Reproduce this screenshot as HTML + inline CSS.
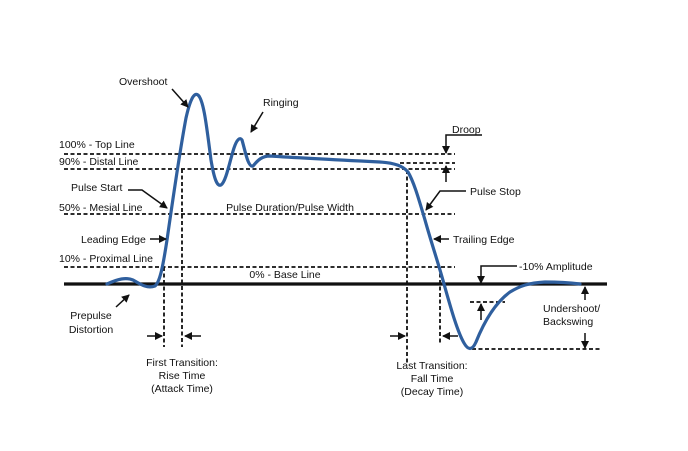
<!DOCTYPE html>
<html><head><meta charset="utf-8"><style>
html,body{margin:0;padding:0;background:#fff;}
svg{display:block;}
text{font-family:"Liberation Sans",sans-serif;font-size:10.5px;fill:#111;}
</style></head><body>
<svg width="688" height="451" viewBox="0 0 688 451" xmlns="http://www.w3.org/2000/svg">
<defs>
<marker id="ah" markerWidth="8" markerHeight="8" refX="7" refY="4" orient="auto" markerUnits="userSpaceOnUse">
<path d="M0,0 L8,4 L0,8 z" fill="#111"/></marker>
</defs>
<g stroke="#111" stroke-width="1.8" stroke-dasharray="4,2.5" fill="none">
<line x1="64" y1="154" x2="455" y2="154"/>
<line x1="400" y1="163" x2="455" y2="163"/>
<line x1="64" y1="169" x2="455" y2="169"/>
<line x1="64" y1="214" x2="455" y2="214"/>
<line x1="64" y1="267" x2="455" y2="267"/>
<line x1="164" y1="267" x2="164" y2="347"/>
<line x1="182" y1="169" x2="182" y2="347"/>
<line x1="407" y1="170" x2="407" y2="365"/>
<line x1="440" y1="267" x2="440" y2="345"/>
<line x1="470" y1="302" x2="505" y2="302"/>
<line x1="472" y1="349" x2="600" y2="349"/>
</g>
<line x1="64" y1="284" x2="607" y2="284" stroke="#111" stroke-width="3.2"/>
<path d="M107,284 C118,279 126,277 133,280 C140,284 147,289 155,286 C160,282 163,266 167,240 C172,205 180,150 186,118 C190,100 194,92 198,95 C204,100 207,130 211,160 C214,178 217,187 221,185 C226,182 230,160 234,148 C237,139 240,137 242,140 C245,150 248,168 253,166 C258,160 262,156 270,156 C300,158 340,160 380,162 C395,163 403,166 408,172 C414,182 419,200 425,220 C432,245 438,262 444,284 C450,305 457,331 464,343 C468,350 472,351 476,342 C484,322 495,303 510,292 C520,286 528,283 545,282 C560,282 572,283 580,284" fill="none" stroke="#2f5f9e" stroke-width="3.2" stroke-linecap="round"/>
<g stroke="#111" stroke-width="1.5" fill="none">
<line x1="172" y1="89" x2="188" y2="107" marker-end="url(#ah)"/>
<line x1="263" y1="112" x2="251" y2="132" marker-end="url(#ah)"/>
<polyline points="128,190 142,190 167,208" marker-end="url(#ah)"/>
<line x1="150" y1="239" x2="166" y2="239" marker-end="url(#ah)"/>
<line x1="116" y1="307" x2="129" y2="295" marker-end="url(#ah)"/>
<line x1="147" y1="336" x2="162" y2="336" marker-end="url(#ah)"/>
<line x1="201" y1="336" x2="185" y2="336" marker-end="url(#ah)"/>
<line x1="390" y1="336" x2="405" y2="336" marker-end="url(#ah)"/>
<line x1="458" y1="336" x2="443" y2="336" marker-end="url(#ah)"/>
<polyline points="482,135 446,135 446,153" marker-end="url(#ah)"/>
<line x1="446" y1="182" x2="446" y2="166" marker-end="url(#ah)"/>
<polyline points="466,191 440,191 426,210" marker-end="url(#ah)"/>
<line x1="449" y1="239" x2="434" y2="239" marker-end="url(#ah)"/>
<polyline points="517,266 481,266 481,283" marker-end="url(#ah)"/>
<line x1="481" y1="320" x2="481" y2="304" marker-end="url(#ah)"/>
<line x1="585" y1="300" x2="585" y2="287" marker-end="url(#ah)"/>
<line x1="585" y1="333" x2="585" y2="348" marker-end="url(#ah)"/>
</g>
<text x="119" y="85">Overshoot</text>
<text x="263" y="106">Ringing</text>
<text x="59" y="148">100% - Top Line</text>
<text x="59" y="165">90% - Distal Line</text>
<text x="71" y="191">Pulse Start</text>
<text x="59" y="211">50% - Mesial Line</text>
<text x="81" y="243">Leading Edge</text>
<text x="59" y="262">10% - Proximal Line</text>
<text x="285" y="278" text-anchor="middle">0% - Base Line</text>
<text x="290" y="211" text-anchor="middle">Pulse Duration/Pulse Width</text>
<text x="91" y="319" text-anchor="middle">Prepulse</text>
<text x="91" y="333" text-anchor="middle">Distortion</text>
<text x="182" y="366" text-anchor="middle">First Transition:</text>
<text x="182" y="379" text-anchor="middle">Rise Time</text>
<text x="182" y="392" text-anchor="middle">(Attack Time)</text>
<text x="432" y="369" text-anchor="middle">Last Transition:</text>
<text x="432" y="382" text-anchor="middle">Fall Time</text>
<text x="432" y="395" text-anchor="middle">(Decay Time)</text>
<text x="452" y="133">Droop</text>
<text x="470" y="195">Pulse Stop</text>
<text x="453" y="243">Trailing Edge</text>
<text x="519" y="270">-10% Amplitude</text>
<text x="543" y="312">Undershoot/</text>
<text x="543" y="325">Backswing</text>
</svg>
</body></html>
